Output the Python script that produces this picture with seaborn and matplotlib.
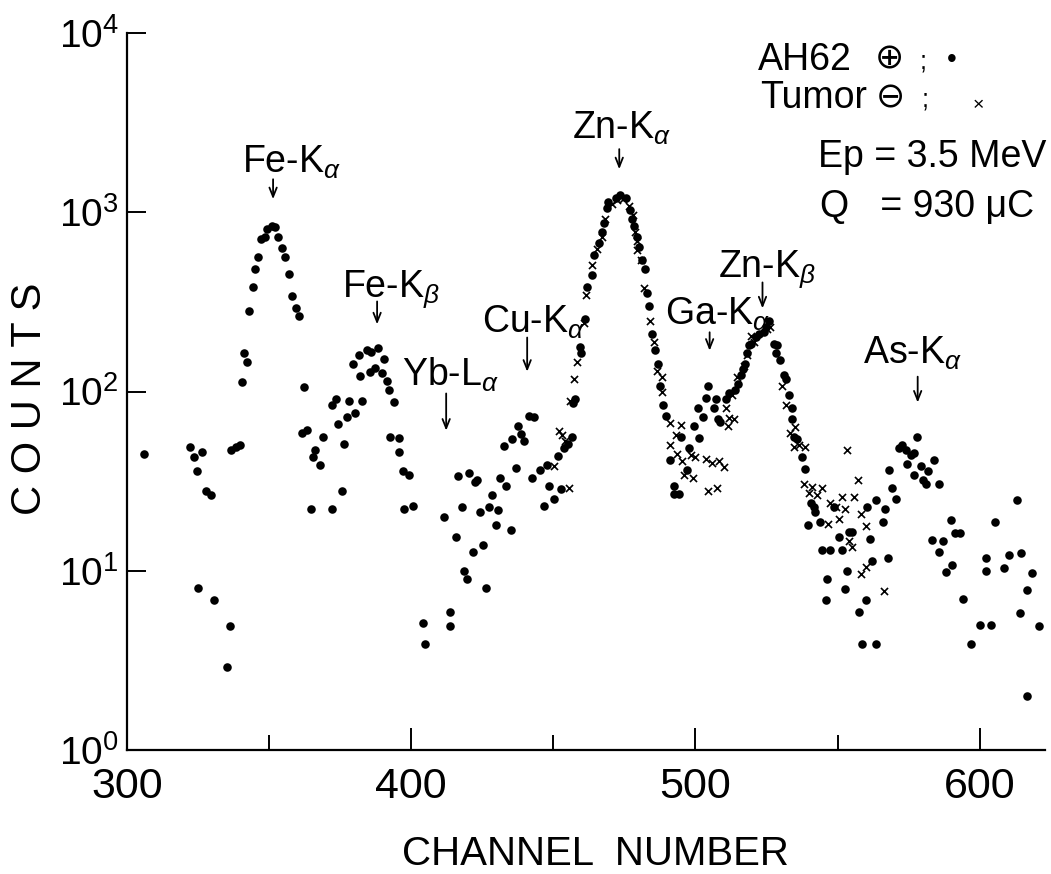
import matplotlib
matplotlib.use("Agg")
import matplotlib.pyplot as plt
import seaborn as sns
from matplotlib.ticker import FixedLocator, NullLocator

# ---------------------------------------------------------------------------
# PIXE spectrum: counts per channel, AH62 hepatoma (dots) and tumor (crosses)
# ---------------------------------------------------------------------------
ah62_channel = [
    306.0, 322.0, 323.5, 326.5, 324.7, 327.8, 329.6, 325.0, 330.6, 336.2, 335.2,
    336.5, 338.2, 339.6, 340.4, 341.0, 342.2, 343.0, 344.3, 345.1, 346.0, 347.1,
    348.4, 349.4, 351.0, 352.1, 353.0, 354.7, 355.7, 357.0, 358.0, 359.6, 360.6,
    362.4, 361.5, 363.3, 368.8, 366.2, 365.3, 368.0, 364.7, 372.1, 375.6, 376.2,
    374.2, 372.1, 373.5, 378.2, 382.6, 377.4, 380.3, 379.5, 381.5, 382.1, 384.4,
    385.9, 388.2, 385.6, 387.3, 390.6, 389.7, 391.4, 392.3, 394.0, 392.6, 395.6,
    395.6, 397.0, 399.1, 397.5, 400.5, 411.6, 404.0, 405.0, 413.8, 413.8,
    415.8, 421.9, 425.4, 418.6, 419.6, 426.3, 417.8, 416.3, 420.5, 422.5, 423.3,
    424.3, 427.2, 430.7, 428.4, 429.8, 435.1, 431.1, 433.4, 436.8, 432.5, 435.4,
    437.4, 438.6, 439.8, 441.6, 443.3, 442.5, 445.4, 447.7, 446.8, 450.4, 452.7,
    448.5, 451.5, 453.9, 455.0, 456.6,
    457.1, 457.7, 459.7, 459.5, 461.2, 461.8, 463.6, 464.4, 465.9, 467.1, 467.9,
    468.9, 469.1, 471.9, 473.6, 475.4, 476.9, 477.7, 478.3, 479.3, 480.1, 481.3,
    482.4, 482.8, 483.8, 484.8, 485.7, 486.9, 487.7, 488.5, 489.5, 494.8, 497.7,
    491.0, 497.1, 492.4, 492.4, 494.2,
    499.5, 501.2, 500.9, 502.7, 503.6, 504.5, 507.4, 506.7, 507.9, 508.8, 510.6,
    511.8, 514.1, 514.9, 515.9, 516.8, 517.6, 518.2, 518.8, 519.4, 521.2, 522.3,
    524.1, 524.7, 525.9,
    527.6, 528.8, 528.2, 529.9, 531.1, 531.7, 532.9, 534.0, 534.0, 534.6, 535.8,
    537.6, 538.5, 540.5, 541.7, 542.2, 539.7, 543.8, 548.7, 550.5, 554.0, 555.2,
    544.6, 547.5, 551.4, 546.4, 553.4, 552.5, 546.1, 559.9, 557.5, 558.7, 563.7,
    561.3, 562.2, 560.4, 563.7, 566.7, 566.1, 567.7, 568.1, 569.3, 570.4,
    571.6, 572.8, 574.0, 575.7, 576.9, 578.1, 574.3, 576.9, 579.2, 580.0, 581.3,
    581.8, 584.1, 585.7, 583.3, 590.0, 587.2, 585.7, 593.1, 591.5, 588.0, 590.4,
    594.2, 597.0, 600.3, 603.9, 602.1, 602.4, 605.3, 608.6, 610.3, 613.2, 614.4,
    614.2, 616.5, 618.5, 616.5, 620.9,
]
ah62_counts = [
    45, 49, 43, 46, 36, 28, 26.5, 8.0, 6.9, 4.9, 2.9,
    47, 49, 50, 113, 163, 146, 281, 383, 482, 564, 706,
    730, 803, 842, 826, 730, 635, 564, 450, 340, 292, 265,
    106, 59, 61, 56, 47, 43, 39, 22, 22, 28, 51,
    66, 84, 91, 89, 89, 72, 76, 142, 159, 122, 170,
    167, 174, 128, 135, 152, 127, 114, 102, 87, 56, 55,
    46, 36, 34, 22, 23, 20, 5.1, 3.9, 5.9, 4.9,
    15.5, 12.8, 13.9, 10.0, 9.0, 8.0, 22.7, 33.7, 34.9, 31.3, 32.2,
    21.4, 22.7, 21.9, 26.6, 17.9, 16.9, 32.8, 29.8, 37.5, 49.9, 54.2,
    64, 58, 53, 73, 72, 32.8, 36.6, 38.8, 23, 25, 28.6,
    29.8, 43.6, 48.7, 51.2, 55.7,
    86, 91, 165, 177, 253, 385, 449, 575, 673, 776, 875,
    1059, 1137, 1195, 1251, 1195, 1035, 918, 842, 723, 641, 543,
    482, 353, 299, 209, 171, 143, 108, 84, 73, 55.5, 48.7,
    41.7, 36.6, 29.8, 26.9, 26.9,
    64, 55, 80.5, 72, 92, 107, 91, 80.5, 70, 67.5, 91,
    97.5, 102, 110, 124, 133, 143, 165, 181, 183, 201, 209,
    214, 230, 247,
    185, 181, 165, 150, 124, 118, 95, 80.5, 70.5, 56, 54,
    43, 37, 24, 22.7, 21.4, 17.9, 18.8, 22.7, 15.5, 16.5, 16.5,
    13.0, 13.1, 13.0, 9.0, 10.0, 7.9, 6.9, 6.9, 5.9, 3.9, 3.9,
    15.1, 11.4, 22.7, 24.7, 22.2, 18.8, 11.8, 36.6, 28.8, 25.0,
    48.7, 50, 47, 44.4, 45.4, 55.5, 39.4, 34.1, 38.4, 32, 30.5,
    36, 41.7, 30.5, 14.8, 19.2, 14.6, 12.8, 16.3, 16.3, 9.9, 10.8,
    7.0, 3.9, 5.0, 5.0, 11.8, 10.0, 18.8, 10.4, 12.3, 24.8, 12.5,
    5.8, 7.8, 9.7, 2.0, 4.9,
]

tumor_channel = [
    450.3, 455.4, 451.9, 454.2, 453.0, 456.0, 457.4, 458.3, 460.7, 461.5, 463.6,
    465.4, 467.1, 468.3, 470.7, 472.4, 474.6, 476.6, 478.1, 478.9, 479.3, 479.5,
    480.7, 481.8, 484.0, 485.4, 486.5, 488.3, 488.3, 491.2, 494.8, 493.0, 491.0,
    493.6, 495.3, 498.3, 500.0, 495.9, 499.1, 504.5, 507.7, 503.6, 505.9, 508.3,
    510.0,
    510.6, 511.8, 513.5, 511.4, 513.0, 514.7, 517.1, 518.2, 519.4, 520.6, 525.3,
    526.4,
    530.5, 531.7, 535.2, 533.4, 536.4, 538.7, 534.6, 538.1, 541.1, 544.6, 539.9,
    542.8, 547.5, 549.3, 546.6, 551.4, 552.5, 550.5, 555.8, 557.3, 553.2, 558.1,
    560.1, 554.2, 555.2, 558.1, 566.3, 560.0,
]
tumor_counts = [
    38.4, 28.8, 60.4, 53, 57, 88.5, 118, 146, 240, 345, 506,
    626, 730, 918, 1111, 1164, 1180, 1084, 962, 776, 689, 612,
    543, 379, 247, 188, 130, 121, 100, 67, 65, 57, 50,
    45, 41, 44, 43, 34, 33, 28, 29, 42, 40, 41,
    38,
    80.5, 71.4, 70.5, 64, 95, 121, 139, 160, 204, 190, 224,
    230,
    108, 84, 63, 59, 50, 49, 49, 30.5, 29.5, 29, 27,
    26.6, 24, 22.7, 18.3, 25.8, 22, 19.4, 25.8, 32, 47, 20.7,
    17.7, 14.6, 13.6, 9.6, 7.7, 10.5,
]

# Element lines marked above the spectrum and the channel each arrow points at
peak_labels = ["Fe-K$_{\\alpha}$", "Fe-K$_{\\beta}$", "Yb-L$_{\\alpha}$", "Cu-K$_{\\alpha}$",
               "Zn-K$_{\\alpha}$", "Ga-K$_{\\alpha}$", "Zn-K$_{\\beta}$", "As-K$_{\\alpha}$"]
peak_channels = [351.4, 388.0, 412.3, 440.8, 473.2, 505.0, 523.6, 578.2]

x_major_ticks = [300, 400, 500, 600]
x_minor_ticks = [350, 450, 550]
y_ticks = [1, 10, 100, 1000, 10000]

# ---------------------------------------------------------------------------
sns.set_theme(style="white")
plt.rcParams["font.family"] = ["Liberation Sans", "DejaVu Sans"]
plt.rcParams["mathtext.fontset"] = "custom"
plt.rcParams["mathtext.rm"] = "Liberation Sans"
plt.rcParams["mathtext.it"] = "Liberation Sans:italic"
plt.rcParams["mathtext.bf"] = "Liberation Sans:bold"
for key in ["text.color", "axes.labelcolor", "xtick.color", "ytick.color", "axes.edgecolor"]:
    plt.rcParams[key] = "black"

W, H = 1051, 874
fig = plt.figure(figsize=(W / 100, H / 100), dpi=100)
fig.patch.set_facecolor("white")
ax = fig.add_axes([127 / W, 1 - 750 / H, 918 / W, 717 / H])
ax.set_facecolor("white")

sns.scatterplot(x=ah62_channel, y=ah62_counts, marker="o", s=38, color="black",
                edgecolor="black", linewidth=0, ax=ax, zorder=3)
sns.scatterplot(x=tumor_channel, y=tumor_counts, marker="x", s=26, color="black",
                linewidth=1.2, ax=ax, zorder=3)

ax.set_yscale("log")
ax.set_xlim(300, 623)
ax.set_ylim(1, 1e4)

for side in ["top", "right"]:
    ax.spines[side].set_visible(False)
for side in ["left", "bottom"]:
    ax.spines[side].set_linewidth(1.6)

ax.xaxis.set_major_locator(FixedLocator(x_major_ticks))
ax.xaxis.set_minor_locator(FixedLocator(x_minor_ticks))
ax.yaxis.set_major_locator(FixedLocator(y_ticks))
ax.yaxis.set_minor_locator(NullLocator())
ax.tick_params(axis="x", which="major", direction="in", length=16, width=1.4,
               labelsize=31, pad=12, bottom=True)
ax.tick_params(axis="x", which="minor", direction="in", length=11, width=1.4, bottom=True)
ax.tick_params(axis="y", which="major", direction="in", length=14, width=1.4,
               labelsize=28, pad=6, left=True)
ax.grid(False)

ax.set_xlabel("CHANNEL  NUMBER", fontsize=29)
ax.xaxis.set_label_coords(0.51, -0.118)
ax.set_ylabel("C O U N T S", fontsize=30)
ax.yaxis.set_label_coords(-0.084, 0.49)

# Text position (left channel, baseline count) and arrow span (top, tip counts)
label_layout = [
    (340.5, 1671, 1528, 1183),
    (375.7, 340, 318, 237),
    (396.8, 108, 97.5, 60.5),
    (425.0, 214, 200, 129),
    (456.7, 2558, 2250, 1738),
    (489.4, 237, 214, 169),
    (508.1, 439, 406, 291),
    (558.8, 143, 121, 86.8),
]
for text, ch, (tx, ty, a_top, a_tip) in zip(peak_labels, peak_channels, label_layout):
    ax.text(tx, ty, text, fontsize=27, ha="left", va="baseline", zorder=4)
    ax.annotate("", xy=(ch, a_tip), xytext=(ch, a_top),
                arrowprops=dict(arrowstyle="->,head_length=0.55,head_width=0.22",
                                lw=1.3, color="black", shrinkA=0, shrinkB=0))

# Sample key and run conditions in the upper right corner
def fx(px):
    return px / W

def fy(py):
    return 1 - py / H

fig.text(fx(758), fy(70), "AH62", fontsize=27, ha="left", va="baseline")
fig.text(fx(889), fy(58), "\u2295", fontsize=25, ha="center", va="center",
         family=["DejaVu Sans"])
fig.text(fx(923), fy(62), ";", fontsize=18, ha="center", va="center")
fig.text(fx(952), fy(60), "\u2022", fontsize=20, ha="center", va="center")

fig.text(fx(760), fy(108), "Tumor", fontsize=27, ha="left", va="baseline")
fig.text(fx(890), fy(97), "\u2296", fontsize=25, ha="center", va="center",
         family=["DejaVu Sans"])
fig.text(fx(925), fy(100), ";", fontsize=18, ha="center", va="center")
fig.text(fx(978), fy(106), "\u00d7", fontsize=14, ha="center", va="center")

fig.text(fx(818), fy(167), "Ep = 3.5 MeV", fontsize=27, ha="left", va="baseline")
fig.text(fx(820), fy(217), "Q   = 930 \u03bcC", fontsize=27, ha="left", va="baseline")

fig.savefig("out.png", dpi=100, facecolor="white")
